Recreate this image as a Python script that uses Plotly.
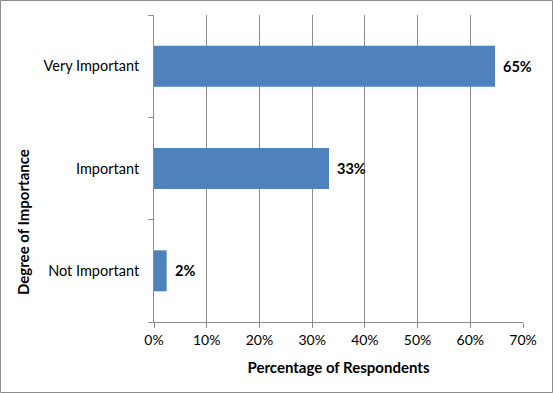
import plotly.graph_objects as go

categories = ["Not Important", "Important", "Very Important"]
values = [2.4, 33.2, 64.7]
labels = ["2%", "33%", "65%"]
x_ticks = [0, 10, 20, 30, 40, 50, 60, 70]
x_tick_text = ["0%", "10%", "20%", "30%", "40%", "50%", "60%", "70%"]

FONT = "Lato, Carlito, 'Open Sans', sans-serif"
GRID = "#8c8c8c"

fig = go.Figure()
fig.add_trace(go.Bar(
    y=categories, x=values, orientation="h",
    marker=dict(color="#4F81BD", line=dict(width=0)),
    width=0.4,
    cliponaxis=False,
))

W, H = 553, 393
L, R, T, B = 154, 30, 15, 71
PW, PH = W - L - R, H - T - B

annotations = [dict(
    text="<b>Degree of Importance</b>", textangle=-90,
    xref="paper", yref="paper",
    x=(23 - L) / PW, y=(H - B - 222) / PH,
    showarrow=False, font=dict(family=FONT, size=15),
    xanchor="center", yanchor="middle",
)]
for c, v, t in zip(categories, values, labels):
    annotations.append(dict(
        x=v, y=c, xref="x", yref="y", text="<b>" + t + "</b>",
        showarrow=False, xanchor="left", yanchor="middle", xshift=6,
        font=dict(family=FONT, size=14.5, color="#000000"),
    ))

fig.update_layout(
    width=W, height=H,
    margin=dict(l=L, r=R, t=T, b=B, autoexpand=False),
    paper_bgcolor="white", plot_bgcolor="white",
    showlegend=False,
    font=dict(family=FONT, size=14, color="#000000"),
    xaxis=dict(
        range=[0, 70], tickvals=x_ticks, ticktext=x_tick_text,
        showgrid=True, gridcolor=GRID, gridwidth=1,
        zeroline=False, automargin=False,
        showline=True, linecolor=GRID, linewidth=1,
        ticks="outside", ticklen=5, tickcolor=GRID,
        tickfont=dict(family=FONT, size=14),
        title=dict(text="<b>Percentage of Respondents</b>",
                   font=dict(family=FONT, size=15), standoff=15),
    ),
    yaxis=dict(
        categoryorder="array", categoryarray=categories,
        showgrid=False, zeroline=False, automargin=False,
        showline=True, linecolor=GRID, linewidth=1,
        ticks="outside", ticklen=5, tickcolor=GRID, tickson="boundaries",
        tickfont=dict(family=FONT, size=14.5),
        ticklabelstandoff=11,
    ),
    annotations=annotations,
    shapes=[dict(type="rect", xref="paper", yref="paper",
                 x0=(0.5 - L) / PW, x1=(W - 0.5 - L) / PW,
                 y0=-(B - 0.5) / PH, y1=1 + (T - 0.5) / PH,
                 line=dict(color=GRID, width=1), layer="below")],
)

fig.write_html("out.html", config={"displayModeBar": False},
               post_script="document.body.style.margin='0';")
